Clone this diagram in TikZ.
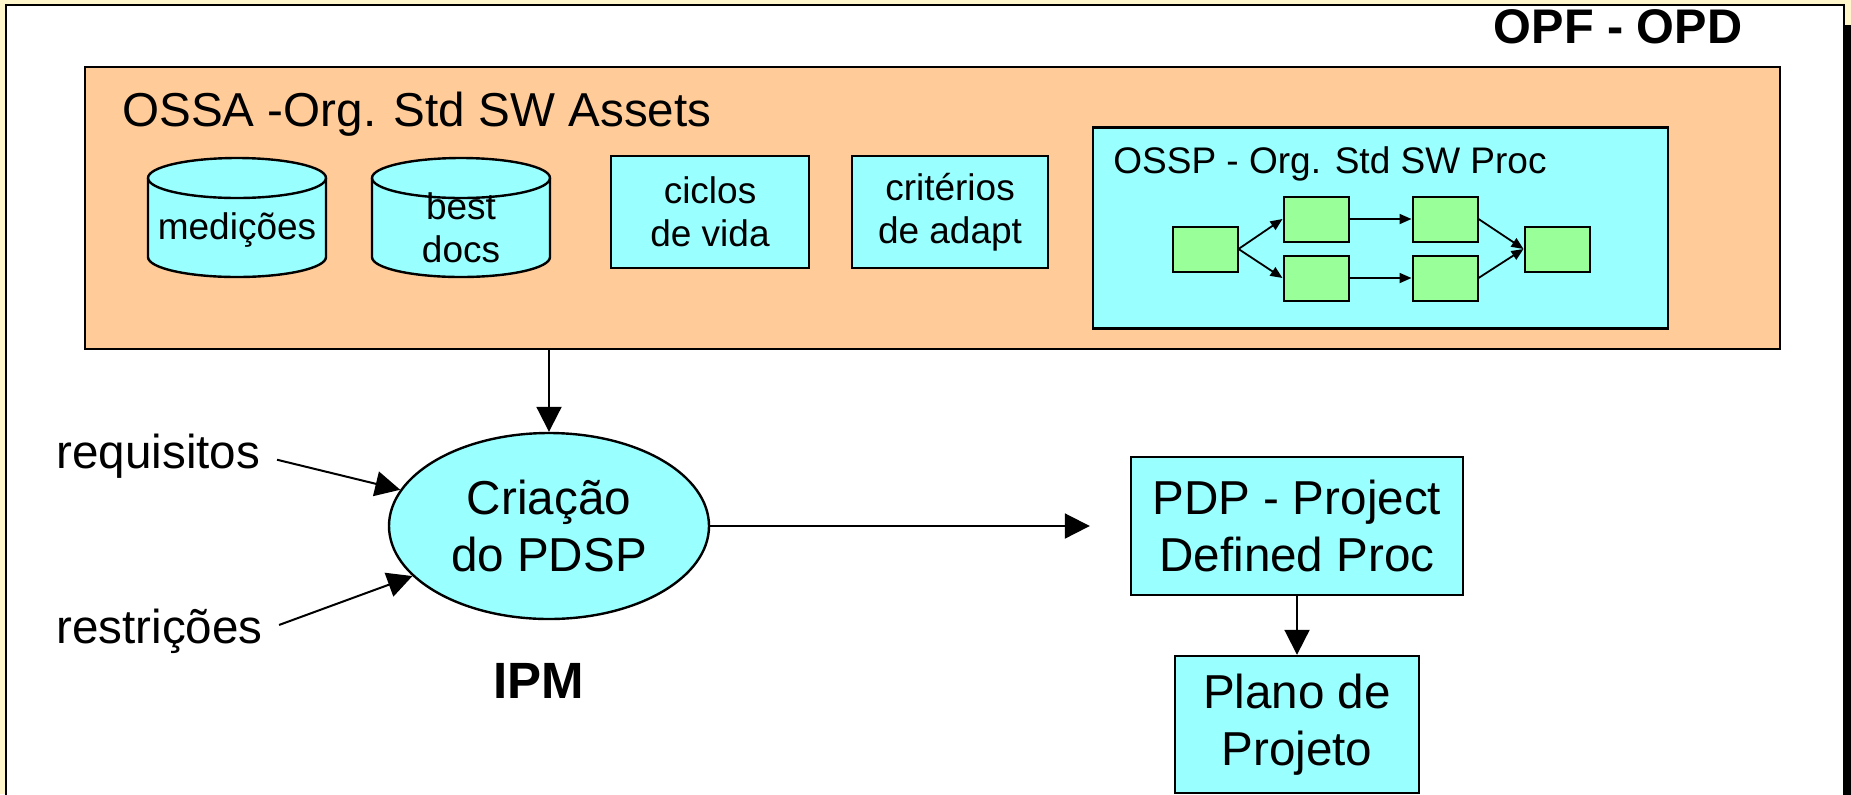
\documentclass[tikz,border=0pt]{standalone}
\usepackage{fontspec}
\setmainfont{Liberation Sans}
\usetikzlibrary{shapes.geometric}
\usetikzlibrary{arrows.meta}
\definecolor{paleyellow}{HTML}{FFF6CC}
\definecolor{peach}{HTML}{FFCC99}
\definecolor{aqua}{HTML}{99FFFF}
\definecolor{mint}{HTML}{99FF99}
\newcommand{\bigtxt}{\fontsize{23.8}{28.5}\selectfont}
\newcommand{\smalltxt}{\fontsize{18.5}{21.5}\selectfont}

\begin{document}
\begin{tikzpicture}[x=0.5pt, y=-0.5pt,
    aquabox/.style={draw, line width=1.2pt, fill=aqua, align=center, inner sep=0pt},
    stepbox/.style={draw, line width=1pt, fill=mint, minimum width=32.5pt, minimum height=22.5pt, inner sep=0pt},
    bigarrow/.style={line width=1pt, -{Triangle[width=12.5pt, length=12.5pt]}},
    smallarrow/.style={line width=0.9pt, -{Triangle[width=5pt, length=6pt]}},
    cyl/.style={draw, line width=1.2pt, fill=aqua}]
    \useasboundingbox (0,0) rectangle (1851,794);
    % background, frame and shadow
    \fill[paleyellow] (0,0) rectangle (1851,794);
    \fill[black] (1844,25) rectangle (1870,850);
    \filldraw[fill=white, line width=1.25pt] (6,5) rectangle (1844,830);
    \node[font=\bfseries\fontsize{24.3}{28}\selectfont, anchor=base, inner sep=0pt] (opf) at (1618,43) {OPF - OPD};
    % OSSA
    \node[draw, line width=1.2pt, fill=peach, minimum width=847.5pt, minimum height=141pt, inner sep=0pt] (ossa) at (932.5,208) {};
    \node[font=\bigtxt, anchor=base west, inner sep=0pt] (ossat) at (122,126) {OSSA -Org. Std SW Assets};
    % repositories
    \foreach \cx in {237, 461} {
        \filldraw[cyl] ({\cx-89},178) -- ({\cx-89},257)
            arc[start angle=180, end angle=360, x radius=44.5pt, y radius=10pt]
            -- ({\cx+89},178)
            arc[start angle=0, end angle=180, x radius=44.5pt, y radius=10pt] -- cycle;
        \draw[line width=1.2pt] ({\cx-89},178) arc[start angle=180, end angle=360, x radius=44.5pt, y radius=10pt];
    }
    \node[font=\smalltxt, align=center] (med) at (237,230) {medições};
    \node[font=\smalltxt, align=center] (best) at (461,228) {best\\docs};
    \node[aquabox, font=\smalltxt, minimum width=99pt, minimum height=56pt] (ciclos) at (710,212) {ciclos\\de vida};
    \node[aquabox, font=\smalltxt, minimum width=98pt, minimum height=56pt] (crit) at (950,212) {critérios\\de adapt};
    % OSSP
    \node[aquabox, minimum width=287.5pt, minimum height=100.5pt] (ossp) at (1380.5,228) {};
    \node[font=\smalltxt, anchor=base west, inner sep=0pt] (osspt) at (1113,173) {OSSP - Org. Std SW Proc};
    \node[stepbox] (s1) at (1205,249) {};
    \node[stepbox] (s2) at (1316,219) {};
    \node[stepbox] (s3) at (1316,278) {};
    \node[stepbox] (s4) at (1445,219) {};
    \node[stepbox] (s5) at (1445,278) {};
    \node[stepbox] (s6) at (1557,249) {};
    \draw[smallarrow] (s1.east) -- (s2.west);
    \draw[smallarrow] (s1.east) -- (s3.west);
    \draw[smallarrow] (s2.east) -- (s4.west);
    \draw[smallarrow] (s3.east) -- (s5.west);
    \draw[smallarrow] (s4.east) -- (s6.west);
    \draw[smallarrow] (s5.east) -- (s6.west);
    % IPM
    \node[ellipse, draw, line width=1.2pt, fill=aqua, minimum width=160pt, minimum height=93pt, inner sep=0pt, font=\bigtxt, align=center] (crea) at (549,526) {Criação\\do PDSP};
    \draw[bigarrow] (ossa.south -| crea.north) -- (crea.north);
    \node[font=\bigtxt, anchor=base west, inner sep=0pt] (req) at (56,468) {requisitos};
    \node[font=\bigtxt, anchor=base west, inner sep=0pt] (restr) at (56,643) {restrições};
    \draw[bigarrow, shorten <=8.5pt] (req.east) -- (crea);
    \draw[bigarrow, shorten <=8.5pt] (restr.east) -- (crea);
    \node[font=\bfseries\fontsize{25.5}{30}\selectfont] (ipm) at (539,681) {IPM};
    % project process
    \node[aquabox, font=\bigtxt, minimum width=166pt, minimum height=69pt] (pdp) at (1297,526) {PDP - Project\\Defined Proc};
    \draw[bigarrow, shorten >=20pt] (crea.east) -- (pdp.west);
    \node[aquabox, font=\bigtxt, minimum width=122pt, minimum height=68.5pt] (plano) at (1297,724.5) {Plano de\\Projeto};
    \draw[bigarrow] (pdp.south) -- (plano.north);
\end{tikzpicture}
\end{document}
